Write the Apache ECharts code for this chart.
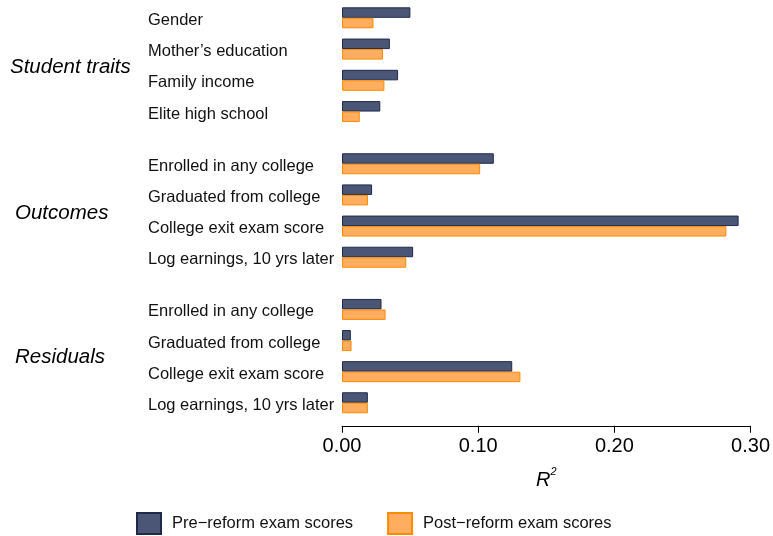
<!DOCTYPE html>
<html>
<head>
<meta charset="utf-8">
<script src="https://cdn.jsdelivr.net/npm/echarts@6/dist/echarts.min.js"></script>
<style>
html,body{margin:0;padding:0;background:#fff;}
#c{width:773px;height:536px;}
</style>
</head>
<body>
<div id="c"></div>
<script>
const groupNames = ['Student traits', 'Outcomes', 'Residuals'];
const catsTraits = ['Gender', 'Mother’s education', 'Family income', 'Elite high school'];
const catsOutcomes = ['Enrolled in any college', 'Graduated from college', 'College exit exam score', 'Log earnings, 10 yrs later'];
const catsResiduals = ['Enrolled in any college', 'Graduated from college', 'College exit exam score', 'Log earnings, 10 yrs later'];
const preTraits = [0.050, 0.035, 0.041, 0.028];
const postTraits = [0.023, 0.030, 0.031, 0.013];
const preOutcomes = [0.111, 0.022, 0.290, 0.052];
const postOutcomes = [0.101, 0.019, 0.281, 0.047];
const preResiduals = [0.029, 0.0065, 0.125, 0.019];
const postResiduals = [0.032, 0.007, 0.131, 0.019];
const xTicks = [0, 0.1, 0.2, 0.3];
const seriesNames = ['Pre−reform exam scores', 'Post−reform exam scores'];

const FONT = 'Liberation Sans, Arial, Helvetica, sans-serif';
const preStyle = {color: '#4b5677', borderColor: '#1f2a4b', borderWidth: 1};
const postStyle = {color: '#ffae60', borderColor: '#ff8a00', borderWidth: 1};

const grids = [
  {left: 342, right: 20.7, top: 2.2, height: 125},
  {left: 342, right: 20.7, top: 148.2, height: 124.6},
  {left: 342, right: 20.7, top: 293.9, height: 124.4}
];
const catsAll = [catsTraits, catsOutcomes, catsResiduals];
const preAll = [preTraits, preOutcomes, preResiduals];
const postAll = [postTraits, postOutcomes, postResiduals];

const xAxes = grids.map((g, i) => ({
  gridIndex: i, type: 'value', min: xTicks[0], max: xTicks[xTicks.length - 1], interval: 0.1,
  show: i === 2,
  offset: 7.5,
  splitLine: {show: false},
  axisLine: {show: true, lineStyle: {color: '#000', width: 1}},
  axisTick: {show: true, length: 7, lineStyle: {color: '#000'}},
  axisLabel: {color: '#000', fontSize: 20, fontFamily: FONT, margin: 11,
    formatter: v => v.toFixed(2)},
  name: i === 2 ? '{r|R}{s|2}' : '',
  nameLocation: 'middle', nameGap: 41,
  nameTextStyle: {rich: {
    r: {fontSize: 20, fontStyle: 'italic', fontFamily: FONT, color: '#000', lineHeight: 24, verticalAlign: 'bottom'},
    s: {fontSize: 11, fontStyle: 'italic', fontFamily: FONT, color: '#000', lineHeight: 24, verticalAlign: 'top'}
  }}
}));
const yAxes = grids.map((g, i) => ({
  gridIndex: i, type: 'category', data: catsAll[i], inverse: true,
  axisLine: {show: false}, axisTick: {show: false}, splitLine: {show: false},
  axisLabel: {align: 'left', margin: 194,
    formatter: v => '{a|' + v + '}',
    rich: {a: {color: '#111', fontSize: 16.5, fontFamily: FONT, padding: [5, 0, 0, 0]}}}
}));
const series = [];
grids.forEach((g, i) => {
  series.push({type: 'bar', name: seriesNames[0], xAxisIndex: i, yAxisIndex: i,
    data: preAll[i], barWidth: 10.5, barGap: '0%', itemStyle: preStyle, silent: true});
  series.push({type: 'bar', name: seriesNames[1], xAxisIndex: i, yAxisIndex: i,
    data: postAll[i], barWidth: 10.5, barGap: '0%', itemStyle: postStyle, silent: true});
});

const groupPos = [[10, 69], [15, 215], [15, 359.5]];
const graphic = groupNames.map((n, i) => ({
  type: 'text', left: groupPos[i][0], top: groupPos[i][1] - 12,
  style: {text: n, fontSize: 20.5, fontStyle: 'italic', fontFamily: FONT, fill: '#000'}
}));

const chart = echarts.init(document.getElementById('c'), null, {renderer: 'canvas'});
chart.setOption({
  animation: false,
  backgroundColor: '#fff',
  grid: grids,
  xAxis: xAxes,
  yAxis: yAxes,
  series: series,
  graphic: graphic,
  legend: {
    data: seriesNames.map(n => ({name: n, icon: 'rect'})),
    left: 131, top: 507, itemWidth: 24, itemHeight: 21, itemGap: 34,
    textStyle: {fontSize: 16.5, fontFamily: FONT, color: '#111', padding: [0, 0, 0, 6]},
    selectedMode: false
  }
});
</script>
</body>
</html>
